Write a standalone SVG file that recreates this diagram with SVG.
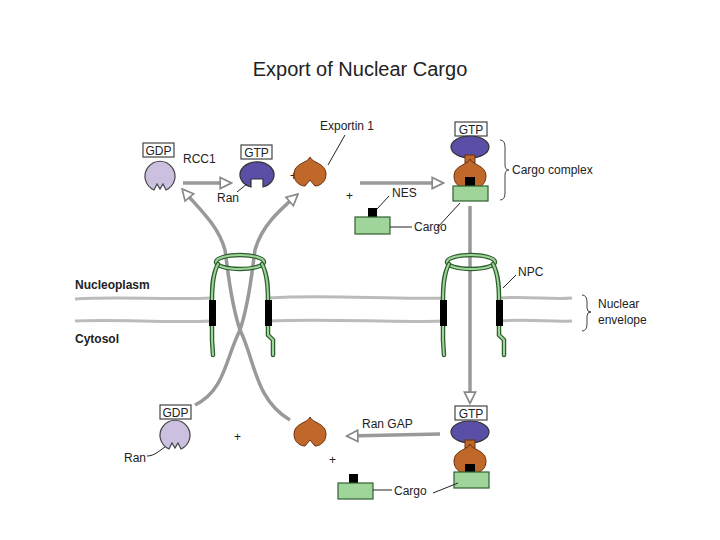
<svg xmlns="http://www.w3.org/2000/svg" width="720" height="540" viewBox="0 0 720 540">
<style>
text{font-family:"Liberation Sans",Arial,sans-serif;fill:#222}
.t{font-size:12px}
.box{fill:#fff;stroke:#444;stroke-width:1.2}
.gdp{fill:#cbc0e0;stroke:#444;stroke-width:1.2}
.gtp{fill:#5a4fa6;stroke:#333;stroke-width:1.2}
.exp{fill:#c0672a;stroke:#6a3210;stroke-width:1}
.cg{fill:#9fd49a;stroke:#2f5f2f;stroke-width:1.2}
.nes{fill:#000}
.arr{fill:none;stroke:#999;stroke-width:3.5}
.lead{fill:none;stroke:#222;stroke-width:1}
.mem{fill:none;stroke:#bbb;stroke-width:3}
.npc{fill:none;stroke:#2f5f2f;stroke-width:4.5;stroke-linecap:round}
.npci{fill:none;stroke:#9fd49a;stroke-width:2;stroke-linecap:round}
.br{fill:none;stroke:#444;stroke-width:1}
</style>
<defs>
<marker id="ah" viewBox="0 0 10 10" refX="8" refY="5" markerWidth="4" markerHeight="4" orient="auto" markerUnits="strokeWidth">
<path d="M1,1 L9,5 L1,9 Z" fill="#fff" stroke="#888" stroke-width="1.2"/>
</marker>
<path id="ranD" d="M-6,13 A15,15 0 1 1 6,13 L3,7 L0,12 L-3,7 Z"/>
<path id="ranT" d="M-6,12 A17,13 0 1 1 6,12 L6,4 L-6,4 Z"/>
<path id="ex" d="M0,-15 C2,-9 16,-9 16,2 C16,10 10,14 5,14 L0,8 L-5,14 C-10,14 -16,10 -16,2 C-16,-9 -2,-9 0,-15Z"/>
</defs>
<text x="360" y="76" font-size="20" text-anchor="middle">Export of Nuclear Cargo</text>

<g id="membrane">
<path class="mem" d="M75,299 C120,296 160,300 212,298 M268,298 C330,294 390,300 443,298 M499,298 C530,296 550,300 572,298"/>
<path class="mem" d="M75,321 C120,319 160,323 212,321 M268,321 C330,318 390,323 443,321 M499,321 C530,319 550,322 572,321"/>
</g>

<g id="connectors">
<path class="arr" d="M195,405 C225,390 225,360 240,330 C250,300 252,270 255,250 C262,225 280,210 297,195" marker-end="url(#ah)"/>
<path class="arr" d="M290,420 C255,400 255,360 240,330 C230,300 228,270 225,250 C218,225 200,210 183,190" marker-end="url(#ah)"/>
<path class="arr" d="M183,183 L230,183" marker-end="url(#ah)"/>
<path class="arr" d="M360,183 L442,183" marker-end="url(#ah)"/>
<path class="arr" d="M470,206 L470,402" marker-end="url(#ah)"/>
<path class="arr" d="M440,434 L348,436" marker-end="url(#ah)"/>
</g>

<g id="npc-left">
<ellipse cx="240" cy="262" rx="24" ry="7" class="npc"/><ellipse cx="240" cy="262" rx="24" ry="7" class="npci"/>
<path class="npc" d="M218,264 C212,275 212,290 212,300 L212,340 L213,355 M262,264 C268,275 268,290 268,300 L268,335 L273,340 L273,355"/>
<path class="npci" d="M218,264 C212,275 212,290 212,300 L212,340 L213,355 M262,264 C268,275 268,290 268,300 L268,335 L273,340 L273,355"/>
<rect x="209" y="300" width="7" height="26" fill="#000"/><rect x="265" y="300" width="7" height="26" fill="#000"/>
</g>
<g id="npc-right">
<ellipse cx="471" cy="262" rx="24" ry="7" class="npc"/><ellipse cx="471" cy="262" rx="24" ry="7" class="npci"/>
<path class="npc" d="M449,264 C443,275 443,290 443,300 L443,340 L444,355 M493,264 C499,275 499,290 499,300 L499,335 L504,340 L504,355"/>
<path class="npci" d="M449,264 C443,275 443,290 443,300 L443,340 L444,355 M493,264 C499,275 499,290 499,300 L499,335 L504,340 L504,355"/>
<rect x="440" y="300" width="7" height="26" fill="#000"/><rect x="496" y="300" width="7" height="26" fill="#000"/>
<path class="lead" d="M503,288 L516,275"/>
<text x="518" y="276" class="t">NPC</text>
</g>

<g id="labels">
<text x="75" y="289" class="t" font-weight="bold">Nucleoplasm</text>
<text x="75" y="343" class="t" font-weight="bold">Cytosol</text>
<path class="br" d="M582,295 Q587,295 587,302 L587,308 Q587,312 591,312 Q587,312 587,316 L587,324 Q587,331 582,331"/>
<text x="598" y="308" class="t">Nuclear</text>
<text x="598" y="324" class="t">envelope</text>
</g>

<g id="ran-gdp-top">
<rect x="143" y="143" width="31" height="14" class="box"/><text x="158.5" y="154.5" class="t" font-size="11" text-anchor="middle">GDP</text>
<use href="#ranD" x="160" y="177" class="gdp"/>
<text x="183" y="163" class="t">RCC1</text>
</g>
<g id="ran-gtp-top">
<rect x="241" y="145" width="31" height="14" class="box"/><text x="256.5" y="156.5" class="t" font-size="11" text-anchor="middle">GTP</text>
<use href="#ranT" x="257" y="175" class="gtp"/>
<path class="lead" d="M237,192 L247,184"/>
<text x="217" y="202" class="t">Ran</text>
<text x="290" y="180" class="t">+</text>
</g>
<g id="exportin-top">
<use href="#ex" x="310" y="172" class="exp"/>
<text x="320" y="130" class="t">Exportin 1</text>
<path class="lead" d="M345,135 L328,165"/>
</g>
<g id="nes-cargo-top">
<text x="346" y="200" class="t">+</text>
<rect x="368" y="208" width="9" height="9" class="nes"/>
<rect x="355" y="217" width="35" height="17" class="cg"/>
<path class="lead" d="M377,209 L389,196"/>
<text x="392" y="197" class="t">NES</text>
<path class="lead" d="M390,227 L412,227"/>
<text x="414" y="231" class="t">Cargo</text>
</g>
<g id="cargo-complex-top">
<rect x="455" y="122" width="32" height="14" class="box"/><text x="471" y="133.5" class="t" font-size="11" text-anchor="middle">GTP</text>
<ellipse cx="470" cy="147" rx="19" ry="11" class="gtp"/>
<rect x="465" y="155" width="10" height="8" fill="#c0672a" stroke="#6a3210"/>
<use href="#ex" x="470" y="174" class="exp"/>
<rect x="465" y="177" width="10" height="10" class="nes"/>
<rect x="453" y="186" width="35" height="15" class="cg"/>
<path class="lead" d="M437,228 L460,203"/>
<path class="br" d="M500,140 Q505,140 505,147 L505,165 Q505,170 509,170 Q505,170 505,175 L505,193 Q505,200 500,200"/>
<text x="512" y="174" class="t">Cargo complex</text>
</g>
<g id="cargo-complex-bottom">
<rect x="455" y="406" width="32" height="14" class="box"/><text x="471" y="417.5" class="t" font-size="11" text-anchor="middle">GTP</text>
<ellipse cx="470" cy="432" rx="19" ry="11" class="gtp"/>
<rect x="465" y="440" width="10" height="8" fill="#c0672a" stroke="#6a3210"/>
<use href="#ex" x="470" y="459" class="exp"/>
<rect x="465" y="464" width="10" height="10" class="nes"/>
<rect x="454" y="472" width="35" height="16" class="cg"/>
<text x="362" y="428" class="t">Ran GAP</text>
</g>
<g id="exportin-bottom">
<use href="#ex" x="310" y="432" class="exp"/>
<text x="329" y="464" class="t">+</text>
</g>
<g id="nes-cargo-bottom">
<rect x="349" y="474" width="9" height="9" class="nes"/>
<rect x="338" y="483" width="35" height="16" class="cg"/>
<path class="lead" d="M373,490 L392,490"/>
<text x="394" y="495" class="t">Cargo</text>
<path class="lead" d="M433,493 L458,483"/>
</g>
<g id="ran-gdp-bottom">
<rect x="160" y="405" width="31" height="14" class="box"/><text x="175.5" y="416.5" class="t" font-size="11" text-anchor="middle">GDP</text>
<use href="#ranD" x="175" y="436" class="gdp"/>
<path class="lead" d="M147,456 C155,456 160,450 165,447"/>
<text x="124" y="462" class="t">Ran</text>
<text x="234" y="441" class="t">+</text>
</g>
</svg>
